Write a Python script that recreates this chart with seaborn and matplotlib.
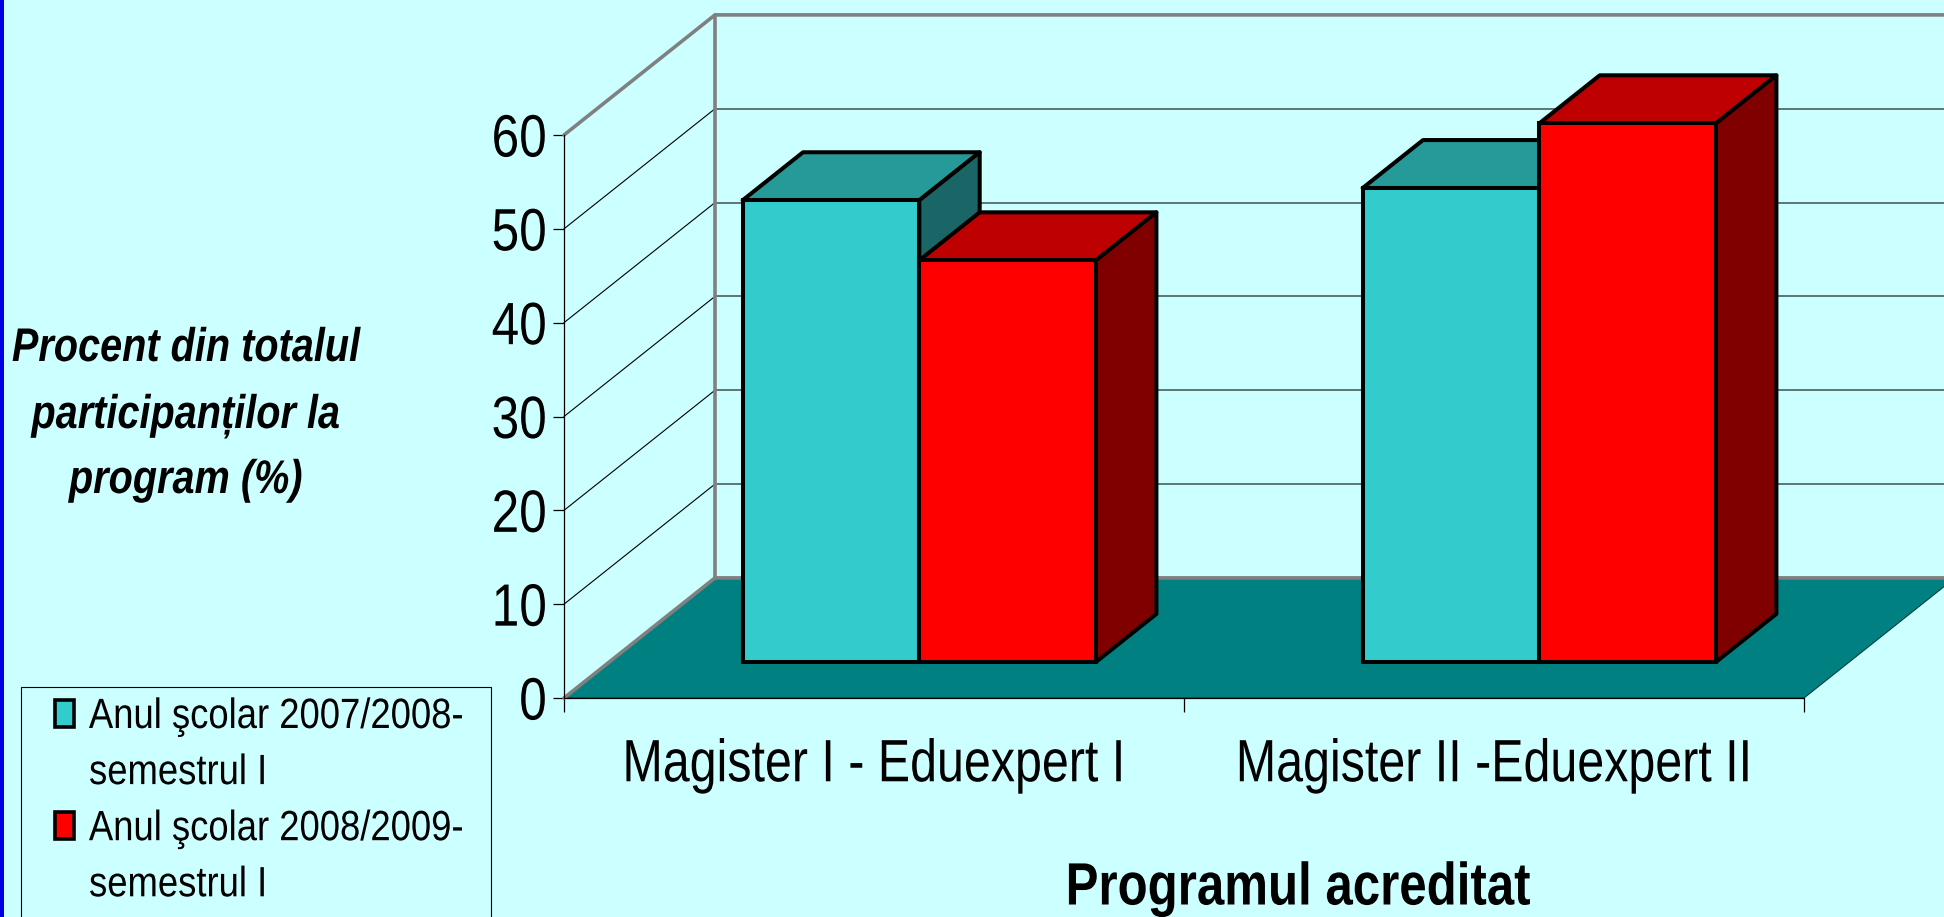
import matplotlib
matplotlib.use("Agg")
import matplotlib.pyplot as plt
from matplotlib.patches import Patch, Polygon, Rectangle
from matplotlib.patheffects import AbstractPathEffect
from matplotlib.transforms import Affine2D, Bbox
import pandas as pd
import seaborn as sns

# chart data
programs = ["Magister I - Eduexpert I", "Magister II -Eduexpert II"]
year_2007 = [49.2, 50.5]
year_2008 = [42.8, 57.4]
series_names = ["Anul şcolar 2007/2008-\nsemestrul I", "Anul şcolar 2008/2009-\nsemestrul I"]
y_ticks = [0, 10, 20, 30, 40, 50, 60]

# colours: front, top, side of each series
BG = "#CCFFFF"
FLOOR = "#008080"
WALL = "#808080"
SHADES = [("#33CCCC", "#269999", "#1A6666"), ("#FF0000", "#BF0000", "#800000")]

# fake 3D: how far the back wall sits from the front plane, in data units
DEPTH_X = 151 / 620
DEPTH_Y = 12.8
BAR_FRONT = 0.3
BAR_BACK = 0.7
EDGE_LW = 2.9


class Condense(AbstractPathEffect):
    """Squeeze text sideways, the original uses a narrow Arial."""

    def __init__(self, factor, anchor=0.5):
        self.factor = factor
        self.anchor = anchor

    def draw_path(self, renderer, gc, tpath, affine, rgbFace=None):
        ext = tpath.get_extents(affine)
        pivot = ext.x0 + self.anchor * ext.width
        squeezed = affine + Affine2D().translate(-pivot, 0).scale(self.factor, 1).translate(pivot, 0)
        renderer.draw_path(gc, tpath, squeezed, rgbFace)


def condense(text, factor, anchor=0.5):
    # the reported extent has to shrink along with the drawn glyphs
    text.set_path_effects([Condense(factor, anchor)])
    full_extent = text.get_window_extent

    def squeezed_extent(renderer=None, dpi=None):
        box = full_extent(renderer, dpi)
        pivot = box.x0 + anchor * box.width
        return Bbox.from_extents(pivot - anchor * box.width * factor, box.y0,
                                 pivot + (1 - anchor) * box.width * factor, box.y1)

    text.get_window_extent = squeezed_extent


def project(x, y, depth):
    return x + depth * DEPTH_X, y + depth * DEPTH_Y


def face(ax, points, color, zorder, edge="black", lw=EDGE_LW):
    ax.add_patch(Polygon(points, closed=True, facecolor=color, edgecolor=edge,
                         linewidth=lw, zorder=zorder, clip_on=False, joinstyle="round"))


sns.set_theme(style="white")
plt.rcParams["font.family"] = ["Liberation Sans"]

W, H = 1944, 917
fig = plt.figure(figsize=(W / 100, H / 100), dpi=100, facecolor=BG)
ax = fig.add_axes([564 / W, (H - 698) / H, 1240 / W, 563 / H])
ax.patch.set_visible(False)

df = pd.DataFrame({
    "program": programs * 2,
    "value": year_2007 + year_2008,
    "series": [series_names[0]] * 2 + [series_names[1]] * 2,
})
sns.barplot(data=df, x="program", y="value", hue="series", hue_order=series_names,
            palette=[s[0] for s in SHADES], width=0.57, gap=0, saturation=1,
            edgecolor="black", linewidth=EDGE_LW, legend=False, ax=ax)

ax.set_xlim(-0.5, 1.5)
ax.set_ylim(0, 60)
right_edge = 3

# walls and floor
fx0, fx1 = -0.5, 1.5
face(ax, [project(fx0, 0, 0), project(fx1, 0, 0), project(fx1, 0, 1), project(fx0, 0, 1)],
     FLOOR, 1, edge="#004040", lw=0.8)
for v in y_ticks[1:-1]:
    ax.plot(*zip(project(fx0, v, 0), project(fx0, v, 1)), color="black", lw=0.8, zorder=0.5, clip_on=False)
    ax.plot(*zip(project(fx0, v, 1), project(right_edge, v, 1)), color="#405050", lw=1.1, zorder=0.5, clip_on=False)
ax.plot(*zip(project(fx0, 0, 0), project(fx0, 0, 1), project(right_edge, 0, 1)), color=WALL, lw=2.6, zorder=1.5, clip_on=False)
ax.plot(*zip(project(fx0, 60, 0), project(fx0, 60, 1), project(right_edge, 60, 1)), color=WALL, lw=2.6, zorder=1.5, clip_on=False)
ax.plot(*zip(project(fx0, 0, 1), project(fx0, 60, 1)), color=WALL, lw=2.6, zorder=1.5, clip_on=False)

# turn every flat seaborn bar into a box
for s, container in enumerate(ax.containers):
    front, top, side = SHADES[s]
    for b, bar in enumerate(container):
        x0 = bar.get_x()
        x1 = x0 + bar.get_width()
        h = bar.get_height()
        z = 3 + s + 4 * b
        face(ax, [project(x0, h, BAR_FRONT), project(x1, h, BAR_FRONT),
                  project(x1, h, BAR_BACK), project(x0, h, BAR_BACK)], top, z)
        face(ax, [project(x1, 0, BAR_FRONT), project(x1, h, BAR_FRONT),
                  project(x1, h, BAR_BACK), project(x1, 0, BAR_BACK)], side, z)
        px, py = project(x0, 0, BAR_FRONT)
        bar.set_x(px)
        bar.set_y(py)
        bar.set_zorder(z + 0.5)
        bar.set_clip_on(False)
        bar.set_joinstyle("miter")

# axes and ticks
sns.despine(ax=ax, top=True, right=True)
for name in ("left", "bottom"):
    ax.spines[name].set_color("black")
    ax.spines[name].set_linewidth(0.9)
ax.set_yticks(y_ticks)
ax.set_xticks([0, 1])
ax.set_xticklabels(programs)
ax.set_xticks([-0.5, 0.5, 1.5], minor=True)
ax.tick_params(axis="y", left=True, length=8, width=0.9, color="black", labelsize=43, pad=4)
ax.tick_params(axis="x", which="major", bottom=False, labelsize=43, pad=23)
ax.tick_params(axis="x", which="minor", bottom=True, length=10, width=0.9, color="black")
ax.set_xlabel("")
ax.set_ylabel("")
for t in ax.get_xticklabels():
    t.set_color("black")
    condense(t, 0.81)
for t in ax.get_yticklabels():
    t.set_color("black")
    condense(t, 0.83, anchor=1)

condense(fig.text(1298 / W, 1 - 889 / H, "Programul acreditat", fontsize=43, fontweight="bold",
                  ha="center", va="center", color="black"), 0.824)
for line, ypx in zip(["Procent din totalul", "participanților la", "program (%)"], [349, 416, 481]):
    condense(fig.text(186 / W, 1 - ypx / H, line, fontsize=34, fontweight="bold", fontstyle="italic",
                      ha="center", va="center", color="black"), 0.84)

# left edge strip of the slide
fig.add_artist(Rectangle((0, 0), 4 / W, 1, transform=fig.transFigure, facecolor="#0000E0", edgecolor="none"))

# legend box runs off the bottom of the slide, drawn apart from the legend rows
fig.add_artist(Rectangle((20.5 / W, -0.05), 470.5 / W, 0.05 + 1 - 687 / H, transform=fig.transFigure,
                         facecolor="none", edgecolor="black", linewidth=0.8))

# one legend row per text line so the swatch sits on the first line
handles, labels = [], []
for s, name in enumerate(series_names):
    first, second = name.split("\n")
    handles += [Patch(facecolor=SHADES[s][0], edgecolor="black", linewidth=2.6), Patch(visible=False)]
    labels += [first, second]
leg = ax.legend(handles, labels, loc="upper left", bbox_to_anchor=(55 / W, 1 - 697 / H),
                bbox_transform=fig.transFigure, fontsize=30.5, frameon=False, labelcolor="black",
                handlelength=0.46, handleheight=0.6, handletextpad=0.34, labelspacing=0.38,
                borderpad=0, borderaxespad=0)
for t in leg.get_texts():
    condense(t, 0.86, anchor=0)

fig.savefig("out.png", dpi=100, facecolor=BG)
plt.close(fig)
